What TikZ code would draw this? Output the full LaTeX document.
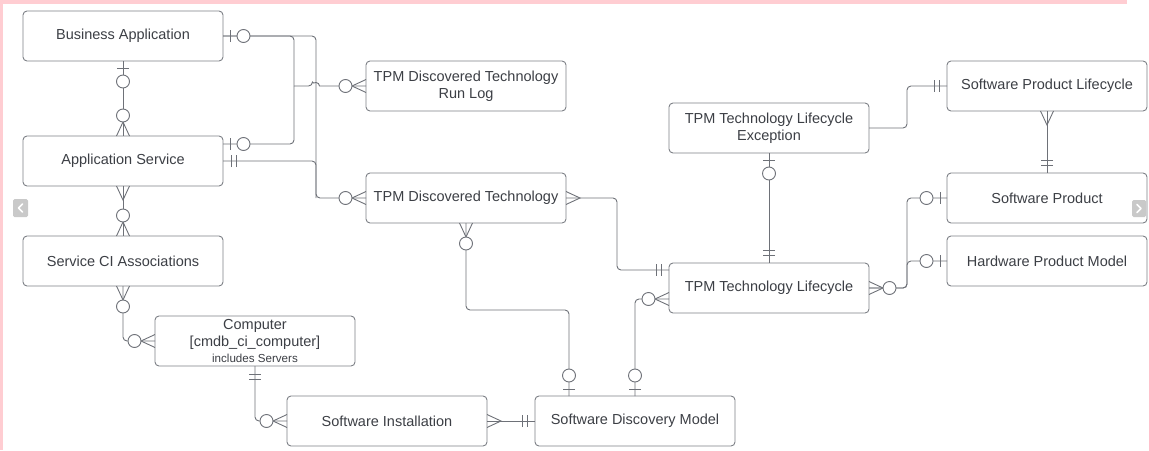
\documentclass[tikz,border=0pt]{standalone}
\usepackage{fontspec}
\setmainfont{Liberation Sans}
\usetikzlibrary{positioning}
\definecolor{linegrey}{HTML}{6E7178}
\definecolor{boxgrey}{HTML}{7D8086}
\definecolor{textgrey}{HTML}{3C3F45}
\definecolor{framepink}{HTML}{FFCDD2}
\definecolor{navgrey}{HTML}{C9C9C9}

\begin{document}
\begin{tikzpicture}[
  x=1pt, y=-1pt,
  entity/.style={draw=boxgrey, rounded corners=4pt, fill=white, text=textgrey,
                 minimum width=200pt, minimum height=50pt, inner sep=2pt, outer sep=0pt,
                 font=\fontsize{14.5pt}{17.4pt}\selectfont, align=center, line width=0.9pt},
  small/.style={font=\fontsize{11.6pt}{14pt}\selectfont},
  link/.style={draw=linegrey, line width=0.9pt, rounded corners=4pt},
  zeroone/.pic={\draw[link] (7pt,-6pt) -- (7pt,6pt);
                \draw[link, fill=white] (20.5pt,0pt) circle (6.5pt);},
  onlyone/.pic={\draw[link] (8pt,-6pt) -- (8pt,6pt) (13pt,-6pt) -- (13pt,6pt);},
  crowmany/.pic={\draw[link, sharp corners] (0pt,-6.5pt) -- (14pt,0pt) -- (0pt,6.5pt);},
  zeromany/.pic={\draw[link, sharp corners] (0pt,-6.5pt) -- (14pt,0pt) -- (0pt,6.5pt);
                 \draw[link, fill=white] (20.5pt,0pt) circle (6.5pt);}
]
\useasboundingbox (0,0) rectangle (1149,450);

% Frame
\fill[framepink] (0,0) rectangle (1127,4);
\fill[framepink] (0,0) rectangle (3,450);

% Left column
\node[entity] (busapp) at (123,36) {Business Application};
\node[entity, below=75pt of busapp] (appsvc) {Application Service};
\node[entity, below=50pt of appsvc] (sciassoc) {Service CI Associations};
\node[entity, below=30pt of sciassoc, xshift=132pt] (computer)
  {Computer\\{}[cmdb\_ci\_computer]\\[-1.5pt]{\fontsize{11.6pt}{14pt}\selectfont includes Servers}};
\node[entity, below=30pt of computer, xshift=132pt] (swinst) {Software Installation};
\node[entity, right=48pt of swinst] (sdm) {Software Discovery Model};

% Discovery
\node[entity] (runlog) at (466,86) {TPM Discovered Technology\\Run Log};
\node[entity, below=62pt of runlog] (disctech) {TPM Discovered Technology};

% Lifecycle
\node[entity] (exception) at (769,128) {TPM Technology Lifecycle\\Exception};
\node[entity, below=110pt of exception] (ttl) {TPM Technology Lifecycle};

% Products
\node[entity] (spl) at (1047,86) {Software Product Lifecycle};
\node[entity, below=62pt of spl] (swprod) {Software Product};
\node[entity, below=13pt of swprod] (hwpm) {Hardware Product Model};

% Links - applications to discovery
\coordinate (runjoin) at (294,86);
\coordinate (hop) at (316,86);
\coordinate (techjoin) at (316,198);
\draw[link] (busapp.east) -| (runjoin);
\draw[link] ([yshift=17pt]appsvc.east) -| (runjoin);
\draw[link] (busapp.east) -| (techjoin) -- (disctech.west);
\draw[link] (appsvc.east) -| (techjoin);
\draw[link] (runjoin) -- ([xshift=-3.5pt]hop) [sharp corners]
  arc[start angle=180, end angle=0, radius=3.5pt] -- (runlog.west);

% Links - left column
\draw[link] (busapp.south) -- (appsvc.north);
\draw[link] (appsvc.south) -- (sciassoc.north);
\draw[link] (sciassoc.south) |- (computer.west);
\draw[link] (computer.south) |- (swinst.west);
\draw[link] (swinst.east) -- (sdm.west);

% Links - discovery to lifecycle
\draw[link] (disctech.south) |- ([xshift=-66pt,yshift=86pt]sdm.north) -- ([xshift=-66pt]sdm.north);
\draw[link] ([yshift=-11pt]ttl.west) -| (sdm.north);
\draw[link] (disctech.east) -| ([xshift=-52pt,yshift=18pt]ttl.west) -- ([yshift=18pt]ttl.west);
\draw[link] (exception.south) -- (ttl.north);
\draw[link] (exception.east) -| ([xshift=-40pt]spl.west) -- (spl.west);

% Links - products
\draw[link] (spl.south) -- (swprod.north);
\draw[link] (ttl.east) -| ([xshift=-40pt]swprod.west) -- (swprod.west);
\draw[link] (ttl.east) -| ([xshift=-40pt]hwpm.west) -- (hwpm.west);

% Ends
\pic[rotate=-90] at (busapp.south) {zeroone};
\pic[rotate=90] at (appsvc.north) {zeromany};
\pic[rotate=-90] at (appsvc.south) {crowmany};
\pic[rotate=90] at (sciassoc.north) {zeromany};
\pic[rotate=-90] at (sciassoc.south) {zeromany};
\pic[rotate=180] at (computer.west) {zeromany};
\pic[rotate=-90] at (computer.south) {onlyone};
\pic[rotate=180] at (swinst.west) {zeromany};
\pic at (swinst.east) {crowmany};
\pic[rotate=180] at (sdm.west) {onlyone};
\pic at (busapp.east) {zeroone};
\pic at ([yshift=17pt]appsvc.east) {zeroone};
\pic at (appsvc.east) {onlyone};
\pic[rotate=180] at (runlog.west) {zeromany};
\pic[rotate=180] at (disctech.west) {zeromany};
\pic at (disctech.east) {crowmany};
\pic[rotate=-90] at (disctech.south) {zeromany};
\pic[rotate=90] at ([xshift=-66pt]sdm.north) {zeroone};
\pic[rotate=90] at (sdm.north) {zeroone};
\pic[rotate=180] at ([yshift=18pt]ttl.west) {onlyone};
\pic[rotate=180] at ([yshift=-11pt]ttl.west) {zeromany};
\pic[rotate=-90] at (exception.south) {zeroone};
\pic[rotate=90] at (ttl.north) {onlyone};
\pic[rotate=180] at (spl.west) {onlyone};
\pic[rotate=-90] at (spl.south) {crowmany};
\pic[rotate=90] at (swprod.north) {onlyone};
\pic at (ttl.east) {zeromany};
\pic[rotate=180] at (swprod.west) {zeroone};
\pic[rotate=180] at (hwpm.west) {zeroone};

% Slide buttons
\fill[navgrey, rounded corners=1.5pt] (13,199) rectangle (28,217);
\draw[white, line width=1.6pt, line cap=round, line join=round] (22.5,204) -- (18.5,208) -- (22.5,212);
\fill[navgrey, rounded corners=1.5pt] (1132,200) rectangle (1146,217);
\draw[white, line width=1.6pt, line cap=round, line join=round] (1137,204.5) -- (1141,208.5) -- (1137,212.5);

\end{tikzpicture}
\end{document}
